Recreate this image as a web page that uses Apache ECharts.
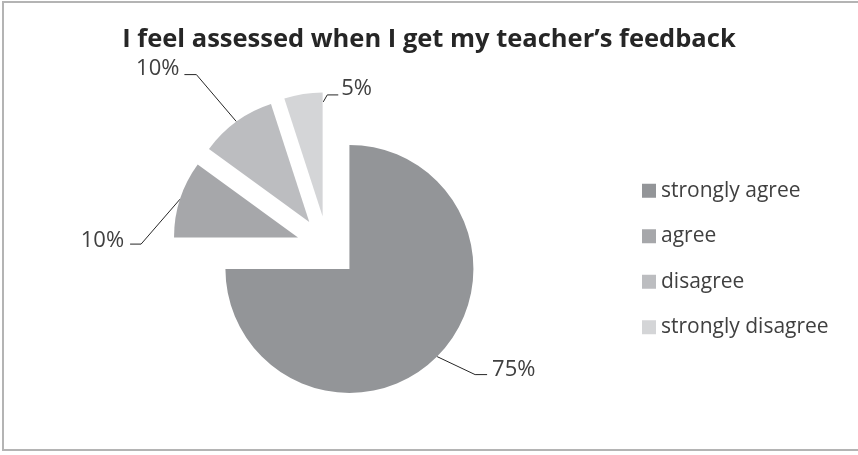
<!DOCTYPE html>
<html>
<head>
<meta charset="utf-8">
<script src="https://cdn.jsdelivr.net/npm/echarts@6/dist/echarts.min.js"></script>
<style>
  html, body { margin: 0; padding: 0; background: #ffffff; }
  #frame {
    position: absolute; left: 2px; top: 1px; width: 870px; height: 450px;
    border-left: 2px solid #b4b4b4; border-top: 2px solid #b4b4b4; border-bottom: 2px solid #b4b4b4;
    box-sizing: border-box;
  }
  #chart { position: absolute; left: 0; top: 0; width: 858px; height: 455px; }
</style>
</head>
<body>
<div id="frame"></div>
<div id="chart"></div>
<script>
// Survey answers and their shares (percent)
const categories = ['strongly agree', 'agree', 'disagree', 'strongly disagree'];
const shares = [75, 10, 10, 5];
const sliceColors = ['#939598', '#a6a7aa', '#bcbdc0', '#d4d5d7'];

// Leader-line shape per slice, relative to the anchor point the pie computes:
// start shift, first (slanted) segment, horizontal tail, text gap, text vertical nudge
const leaderStyles = [
  { start: [0, 0],  seg: [38, 18],   tail: 12,  gap: 5, dy: -5 },
  { start: [0, 0],  seg: [-39, 45],  tail: -11, gap: 6, dy: -3 },
  { start: [0, 0],  seg: [-40, -47], tail: -12, gap: 5, dy: -6 },
  { start: [20, 8], seg: [4, -7],    tail: 11,  gap: 3, dy: -6 }
];

const textColor = '#404040';
const font = '"Open Sans", "Liberation Sans", sans-serif';

const chart = echarts.init(document.getElementById('chart'), null, { renderer: 'canvas' });

const pieData = categories.map((name, i) => ({
  name: name,
  value: shares[i],
  selected: true,
  itemStyle: { color: sliceColors[i] }
}));

chart.setOption({
  animation: false,
  backgroundColor: 'transparent',
  title: {
    text: 'I feel assessed when I get my teacher\u2019s feedback',
    left: 'center',
    top: 22,
    textStyle: { fontFamily: font, fontWeight: 'bold', fontSize: 25.5, color: '#262626' }
  },
  legend: {
    orient: 'vertical',
    left: 637,
    top: 175,
    itemWidth: 14,
    itemHeight: 14,
    itemGap: 24,
    icon: 'rect',
    selectedMode: false,
    data: categories,
    textStyle: { fontFamily: font, fontSize: 21, color: textColor, lineHeight: 21.5 }
  },
  series: [{
    type: 'pie',
    center: [327.5, 247],
    radius: 124,
    startAngle: 90,
    clockwise: true,
    selectedMode: 'multiple',
    selectedOffset: 31,
    avoidLabelOverlap: false,
    emphasis: { disabled: true },
    select: { itemStyle: { borderWidth: 0 } },
    label: {
      show: true,
      formatter: '{c}%',
      fontFamily: font,
      fontSize: 22,
      color: textColor
    },
    labelLine: {
      show: true,
      length: 30,
      length2: 18,
      lineStyle: { color: '#262626', width: 1 }
    },
    // Reshape each leader line from the pie's own anchor point and move the text
    // to the end of the new line.
    labelLayout: function (params) {
      const st = leaderStyles[params.dataIndex];
      const pts = params.labelLinePoints;
      if (!st || !pts) return {};
      const p0 = [pts[0][0] + st.start[0], pts[0][1] + st.start[1]];
      const p1 = [p0[0] + st.seg[0], p0[1] + st.seg[1]];
      const p2 = [p1[0] + st.tail, p1[1]];
      const r = params.labelRect;
      const right = st.tail > 0;
      const targetX = p2[0] + (right ? st.gap : -st.gap);
      const curX = right ? r.x : r.x + r.width;
      const targetY = p2[1] + st.dy;
      const curY = r.y + r.height / 2;
      return {
        dx: targetX - curX,
        dy: targetY - curY,
        labelLinePoints: [p0, p1, p2]
      };
    },
    data: pieData
  }]
});
</script>
</body>
</html>
